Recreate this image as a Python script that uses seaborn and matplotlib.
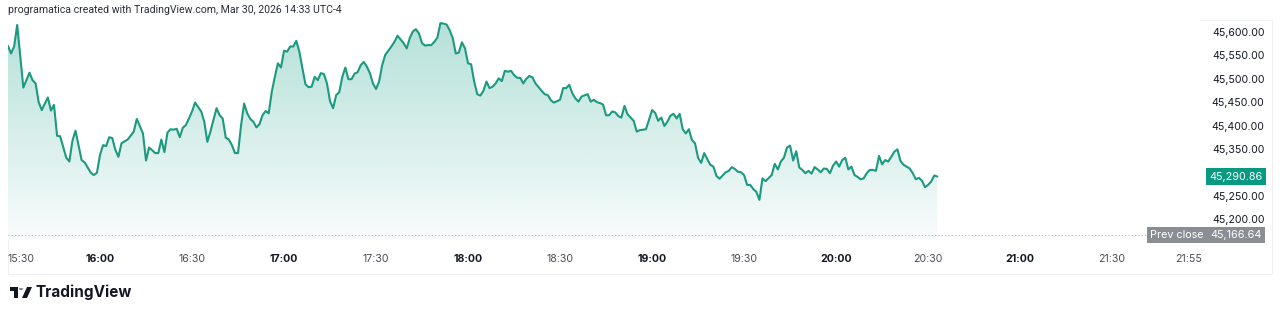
import numpy as np
import matplotlib
matplotlib.use("Agg")
import matplotlib.pyplot as plt
import seaborn as sns
from matplotlib.patches import Rectangle, Polygon, Circle
from matplotlib import transforms

# ---------------- data ----------------
title_text = "programatica created with TradingView.com, Mar 30, 2026 14:33 UTC-4"
start_label = "15:30"
minutes = [0, 1, 2, 3, 5, 7, 8, 9, 10, 11, 13, 14, 15, 16, 17, 19, 20, 21, 22, 24, 25, 27, 28, 29,
           30, 31, 32, 33, 34, 35, 36, 37, 39, 40, 41, 42, 44, 45, 46, 48, 49, 50, 51, 52, 53, 54,
           55, 56, 57, 58, 59, 60, 61, 63, 64, 65, 66, 68, 69, 70, 71, 72, 73, 74, 75, 76, 77, 78,
           79, 80, 81, 82, 83, 84, 85, 86, 87, 88, 89, 90, 91, 92, 93, 94, 95, 96, 97, 98, 99, 100,
           101, 102, 103, 104, 105, 106, 107, 108, 109, 110, 111, 112, 113, 114, 115, 116, 117, 118,
           119, 120, 121, 122, 123, 125, 126, 127, 129, 130, 131, 132, 133, 134, 135, 136, 137, 138,
           139, 140, 141, 142, 143, 144, 145, 146, 147, 148, 149, 150, 151, 152, 153, 154, 155, 156,
           157, 158, 159, 160, 161, 162, 163, 164, 165, 166, 167, 168, 169, 170, 171, 172, 174, 175,
           176, 177, 178, 179, 180, 181, 182, 183, 184, 185, 186, 187, 189, 190, 191, 192, 193, 194,
           195, 196, 197, 198, 199, 200, 201, 202, 204, 205, 206, 208, 209, 210, 211, 212, 213, 214,
           215, 216, 217, 218, 219, 220, 221, 222, 223, 224, 225, 226, 227, 228, 229, 230, 231, 232,
           234, 235, 236, 237, 238, 239, 240, 241, 242, 243, 244, 245, 246, 247, 249, 250, 251, 252,
           253, 254, 255, 256, 257, 258, 259, 260, 261, 262, 263, 264, 265, 266, 267, 268, 269, 270,
           271, 272, 273, 274, 275, 276, 277, 278, 279, 280, 281, 282, 283, 284, 285, 286, 287, 288,
           289, 290, 291, 292, 294, 295, 296, 297, 298, 299, 300, 301, 302, 303]
prices = [45570, 45554, 45569, 45615, 45481, 45513, 45497, 45490, 45450, 45433, 45460, 45432, 45444,
          45378, 45377, 45331, 45323, 45367, 45389, 45326, 45321, 45299, 45294, 45299,
          45337, 45358, 45356, 45375, 45373, 45348, 45333, 45362, 45370, 45378, 45387, 45414, 45383,
          45325, 45353, 45341, 45341, 45370, 45343, 45385, 45392, 45391,
          45393, 45375, 45395, 45401, 45415, 45430, 45449, 45430, 45408, 45365, 45387, 45437, 45422,
          45415, 45374, 45370, 45358, 45341, 45341, 45401, 45447, 45426,
          45414, 45408, 45396, 45403, 45422, 45431, 45426, 45472, 45504, 45533, 45524, 45560, 45558,
          45569, 45569, 45581, 45558, 45522, 45488, 45482, 45483, 45504,
          45497, 45512, 45510, 45490, 45452, 45437, 45465, 45471, 45504, 45524, 45499, 45499, 45511,
          45514, 45529, 45536, 45526, 45512,
          45490, 45478, 45494, 45529, 45551, 45569, 45579, 45592, 45576, 45565, 45587, 45601, 45606,
          45597, 45576, 45571, 45572, 45572,
          45579, 45588, 45619, 45618, 45616, 45604, 45587, 45554, 45556, 45578, 45565, 45533, 45531,
          45494, 45467, 45464, 45474, 45494,
          45480, 45483, 45490, 45501, 45495, 45517, 45515, 45517, 45508, 45502, 45502, 45490, 45500,
          45506, 45503, 45490, 45474, 45467,
          45465, 45454, 45449, 45452, 45455, 45480, 45480, 45487, 45469, 45458, 45451, 45462, 45467,
          45451, 45455, 45450, 45448, 45445,
          45422, 45422, 45430, 45428, 45420, 45417, 45442, 45424, 45410, 45387, 45390, 45392, 45412,
          45433, 45427, 45410, 45417, 45399,
          45408, 45421, 45425, 45415, 45425, 45392, 45383, 45392, 45369, 45362, 45331, 45320, 45341,
          45328, 45316, 45312, 45292, 45286,
          45300, 45303, 45311, 45307, 45301, 45300, 45294, 45273, 45273, 45264, 45258, 45241, 45287,
          45281, 45294, 45318, 45306, 45323,
          45331, 45353, 45357, 45325, 45345, 45310, 45305, 45298, 45303, 45297, 45311, 45306, 45300,
          45308, 45307, 45298, 45314, 45323,
          45312, 45326, 45331, 45306, 45312, 45294, 45290, 45285, 45287, 45298, 45305, 45305, 45303,
          45335, 45317, 45326, 45323, 45333,
          45344, 45349, 45324, 45316, 45308, 45298, 45285, 45288, 45282, 45268, 45273, 45280, 45293,
          45290.86]
last_price = 45290.86
prev_close = 45166.64
prev_close_label = "Prev close"
time_ticks = [0, 30, 60, 90, 120, 150, 180, 210, 240, 270, 300, 330, 360, 385]
time_labels = ["15:30", "16:00", "16:30", "17:00", "17:30", "18:00", "18:30",
               "19:00", "19:30", "20:00", "20:30", "21:00", "21:30", "21:55"]
bold_labels = ["16:00", "17:00", "18:00", "19:00", "20:00", "21:00"]
price_ticks = [45200, 45250, 45300, 45350, 45400, 45450, 45500, 45550, 45600]
brand_text = "TradingView"

# ---------------- style ----------------
W, H = 1280, 315
sns.set_theme(style="white")
plt.rcParams['font.family'] = ['Inter', 'DejaVu Sans']

LINE = "#1b9a80"
GREEN = "#089981"
TXT = "#131722"

fig = plt.figure(figsize=(W / 100, H / 100), dpi=100)
fig.patch.set_facecolor("white")


def fx(x):
    return x / W


def fy(y):
    return 1 - y / H


top_px, bot_px, left_px, right_px = 20, 240, 8, 1200
ax = fig.add_axes([fx(left_px), fy(bot_px), fx(right_px - left_px), (bot_px - top_px) / H])

sns.lineplot(x=minutes, y=prices, ax=ax, color=LINE, linewidth=1.5, zorder=3)

# scale: 0.4675 px per point, 45,600 at y=32 ; 3.067 px per minute
ppu = 0.4675
y_hi = 45600 + (32 - top_px) / ppu
y_lo = 45600 - (bot_px - 32) / ppu
ax.set_ylim(y_lo, y_hi)
ax.set_xlim(0, (right_px - left_px) / 3.067)

# gradient area fill
poly = ax.fill_between(minutes, prices, y_lo, color="none", lw=0)
grad = np.zeros((256, 1, 4))
rgb = matplotlib.colors.to_rgb(GREEN)
grad[:, 0, :3] = rgb
grad[:, 0, 3] = np.linspace(0.03, 0.30, 256)
img = ax.imshow(grad, aspect="auto", origin="lower",
                extent=[minutes[0], minutes[-1], y_lo, max(prices)], zorder=1)
img.set_clip_path(poly.get_paths()[0], transform=ax.transData)

# prev close dotted line
ax.axhline(prev_close, color="#b2b5be", lw=0.8, ls=(0, (1, 2)), zorder=2)

for s in ax.spines.values():
    s.set_visible(False)
ax.grid(False)

# y ticks on right
ax.yaxis.tick_right()
ax.set_yticks(price_ticks)
ax.set_yticklabels([f"{v:,.2f}" for v in price_ticks])
ax.tick_params(axis="y", length=0, pad=46.5, labelsize=7.6, labelcolor=TXT)
for lbl in ax.get_yticklabels():
    lbl.set_horizontalalignment("right")

# x ticks
ax.set_xticks(time_ticks)
ax.set_xticklabels(time_labels)
ax.tick_params(axis="x", length=0, pad=10, labelsize=7.6)
for lbl in ax.get_xticklabels():
    if lbl.get_text() in bold_labels:
        lbl.set_fontweight("bold")
        lbl.set_color(TXT)
    else:
        lbl.set_color("#4a4d57")
    if lbl.get_text() == start_label:
        lbl.set_horizontalalignment("left")
ax.set_xlabel("")
ax.set_ylabel("")

# price labels boxes
blend = transforms.blended_transform_factory(fig.transFigure, ax.transData)
fig.text(fx(1236), last_price, f"{last_price:,.2f}", transform=blend, ha="center", va="center",
         color="white", fontsize=7.8, zorder=10,
         bbox=dict(boxstyle="square,pad=0.28", fc=GREEN, ec="none"))
fig.text(fx(1236), prev_close, f"{prev_close:,.2f}", transform=blend, ha="center", va="center",
         color="white", fontsize=7.8, zorder=10,
         bbox=dict(boxstyle="square,pad=0.28", fc="#8a8d94", ec="none"))
fig.text(fx(1177), prev_close, prev_close_label, transform=blend, ha="center", va="center",
         color="white", fontsize=7.8, zorder=10,
         bbox=dict(boxstyle="square,pad=0.28", fc="#8a8d94", ec="none"))

# outer frame
fig.add_artist(Rectangle((fx(8), fy(274)), fx(1272 - 8), (274 - 20) / H, transform=fig.transFigure,
                         fill=False, ec="#eef0f3", lw=0.8, zorder=0))

# title
fig.text(fx(8), fy(10), title_text, ha="left", va="center", fontsize=7.6, color="#2a2e39",
         family=["Roboto", "DejaVu Sans"])

# logo
fig.add_artist(Rectangle((fx(10), fy(291)), fx(8), 4 / H, transform=fig.transFigure,
                         fc=TXT, ec="none"))
fig.add_artist(Rectangle((fx(14), fy(298)), fx(4), 11 / H, transform=fig.transFigure,
                         fc=TXT, ec="none"))
fig.add_artist(Circle((fx(21), fy(289)), 2.2 / W, transform=fig.transFigure, fc=TXT, ec="none"))
fig.add_artist(Polygon([(fx(22), fy(298)), (fx(27), fy(298)), (fx(32), fy(287)), (fx(27), fy(287))],
                       closed=True, transform=fig.transFigure, fc=TXT, ec="none"))
fig.text(fx(35), fy(292), brand_text, ha="left", va="center", fontsize=11, fontweight="bold",
         color=TXT)

fig.savefig("out.png", dpi=100)
